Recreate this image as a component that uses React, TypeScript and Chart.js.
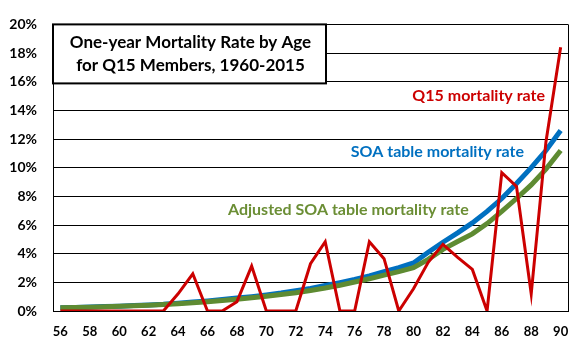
import React, { useEffect, useRef } from "react";
import { Chart, registerables } from "chart.js";

Chart.register(...registerables);

const ages: string[] = [
  "56","57","58","59","60","61","62","63","64","65","66","67","68","69","70","71","72","73",
  "74","75","76","77","78","79","80","81","82","83","84","85","86","87","88","89","90",
];

const q15Rate: number[] = [
  0, 0, 0, 0, 0, 0, 0, 0, 1.2, 2.6, 0, 0, 0.65, 3.13, 0, 0, 0, 3.3,
  4.83, 0, 0, 4.83, 3.65, 0, 1.55, 3.4, 4.65, 3.74, 2.9, 0, 9.65, 8.69, 1.2, 11.8, 18.4,
];

const soaRate: number[] = [
  0.22, 0.25, 0.28, 0.31, 0.34, 0.38, 0.42, 0.47, 0.55, 0.62, 0.7, 0.8, 0.9, 1.0, 1.12, 1.25, 1.42, 1.58,
  1.78, 1.98, 2.2, 2.45, 2.75, 3.03, 3.35, 4.1, 4.8, 5.45, 6.15, 6.95, 7.85, 8.9, 10.0, 11.2, 12.6,
];

const adjustedRate: number[] = [
  0.22, 0.24, 0.27, 0.3, 0.33, 0.36, 0.4, 0.45, 0.51, 0.57, 0.65, 0.73, 0.82, 0.92, 1.03, 1.15, 1.27, 1.43,
  1.6, 1.8, 2.02, 2.25, 2.5, 2.75, 3.02, 3.6, 4.3, 4.85, 5.38, 6.1, 6.95, 7.85, 8.8, 9.9, 11.2,
];

const titleLines: string[] = ["One-year Mortality Rate by Age", "for Q15 Members, 1960-2015"];
const seriesLabels: string[] = ["Q15 mortality rate", "SOA table mortality rate", "Adjusted SOA table mortality rate"];

const FONT = "Lato, 'Open Sans', sans-serif";
const RED = "#CC0000";
const BLUE = "#0070C0";
const GREEN = "#5E8B32";
const GREEN_TEXT = "#6B8E35";

const overlayPlugin = {
  id: "overlay",
  afterDraw(chart: any) {
    const { ctx, chartArea } = chart;
    const ys = chart.scales.y;
    ctx.save();
    // right border
    ctx.strokeStyle = "#000";
    ctx.lineWidth = 1;
    ctx.beginPath();
    ctx.moveTo(chartArea.right + 0.5, chartArea.top);
    ctx.lineTo(chartArea.right + 0.5, chartArea.bottom);
    ctx.stroke();

    // title box
    const bx = chartArea.left;
    const by = chartArea.top;
    const bw = 273;
    const bh = 59;
    ctx.fillStyle = "#fff";
    ctx.fillRect(bx, by, bw, bh);
    ctx.lineWidth = 2;
    ctx.strokeRect(bx, by, bw, bh);
    ctx.fillStyle = "#000";
    ctx.font = `bold 17px ${FONT}`;
    ctx.textAlign = "center";
    ctx.textBaseline = "middle";
    ctx.fillText(titleLines[0], bx + bw / 2 + 1, by + 18);
    ctx.fillText(titleLines[1], bx + bw / 2 + 1, by + 41);

    // series labels
    ctx.font = `bold 16px ${FONT}`;
    ctx.textAlign = "right";
    ctx.fillStyle = RED;
    ctx.fillText(seriesLabels[0], chartArea.right - 23, ys.getPixelForValue(15));
    ctx.fillStyle = BLUE;
    ctx.fillText(seriesLabels[1], chartArea.right - 44, ys.getPixelForValue(11.1));
    ctx.fillStyle = GREEN_TEXT;
    ctx.textAlign = "left";
    ctx.fillText(seriesLabels[2], chartArea.left + 175, ys.getPixelForValue(7.05));
    ctx.restore();
  },
};

export default function App() {
  const ref = useRef<HTMLCanvasElement | null>(null);
  useEffect(() => {
    if (!ref.current) return;
    const chart = new Chart(ref.current, {
      type: "line",
      data: {
        labels: ages,
        datasets: [
          {
            label: seriesLabels[0],
            data: q15Rate,
            borderColor: RED,
            borderWidth: 3,
            pointRadius: 0,
            tension: 0,
            borderJoinStyle: "miter",
          },
          {
            label: seriesLabels[2],
            data: adjustedRate,
            borderColor: GREEN,
            borderWidth: 5,
            pointRadius: 0,
            tension: 0,
          },
          {
            label: seriesLabels[1],
            data: soaRate,
            borderColor: BLUE,
            borderWidth: 5,
            pointRadius: 0,
            tension: 0,
          },
        ],
      },
      options: {
        animation: false,
        responsive: false,
        maintainAspectRatio: false,
        layout: { padding: { left: 0, top: 17, right: 16, bottom: 0 } },
        plugins: { legend: { display: false }, tooltip: { enabled: false }, title: { display: false } },
        scales: {
          x: {
            type: "category",
            offset: true,
            grid: { display: false, drawTicks: false },
            border: { display: true, color: "#000", width: 1 },
            ticks: {
              autoSkip: false,
              maxRotation: 0,
              padding: 13,
              color: "#000",
              font: { family: FONT, size: 13, weight: "bold" },
              callback: (_v: any, i: number) => (i % 2 === 0 ? ages[i] : ""),
            },
            afterFit: (s: any) => {
              s.height = 40;
            },
          },
          y: {
            min: 0,
            max: 20,
            grid: { color: "#000", lineWidth: 1, drawTicks: false },
            border: { display: true, color: "#000", width: 1 },
            ticks: {
              stepSize: 2,
              padding: 16,
              color: "#000",
              font: { family: FONT, size: 14, weight: "bold" },
              callback: (v: any) => `${v}%`,
            },
            afterFit: (s: any) => {
              s.width = 53;
            },
          },
        },
      },
      plugins: [overlayPlugin],
    } as any);
    return () => chart.destroy();
  }, []);
  return (
    <div style={{ position: "fixed", left: 0, top: 0, width: 584, height: 351, background: "#fff" }}>
      <canvas ref={ref} width={584} height={351} style={{ width: 584, height: 351 }} />
    </div>
  );
}
